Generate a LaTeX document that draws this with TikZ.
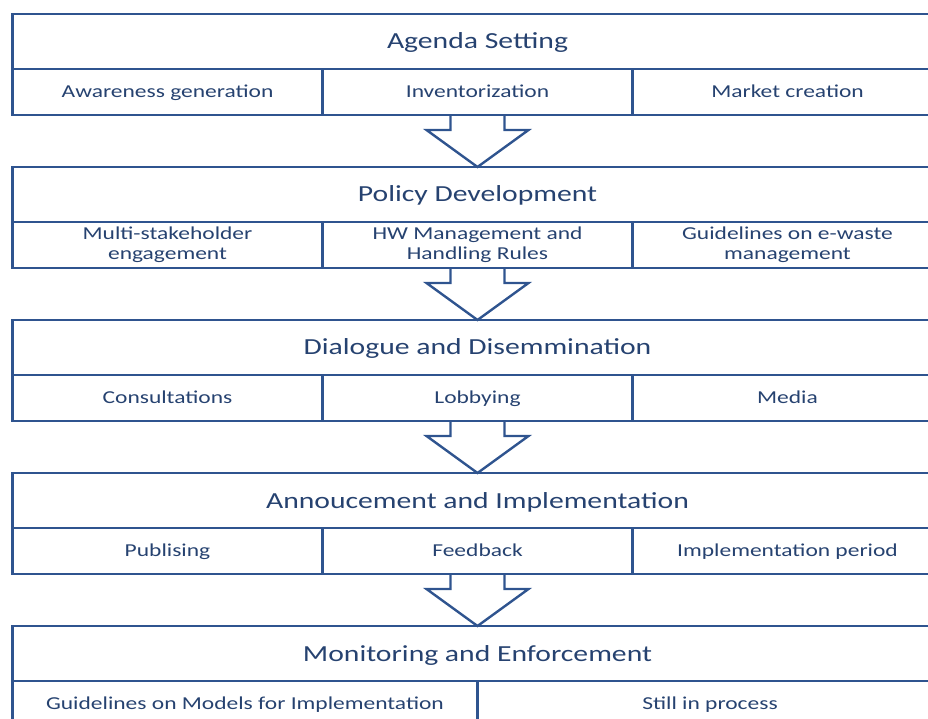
\documentclass[tikz,border=0pt]{standalone}
\usepackage{fontspec}
\setmainfont{Carlito}[FakeStretch=1.29]
\usetikzlibrary{positioning, calc}

\definecolor{frameblue}{RGB}{47,84,143}
\definecolor{textblue}{RGB}{38,66,112}

\begin{document}
\begin{tikzpicture}[
  x=1pt, y=1pt,
  stage/.style={draw=frameblue, line width=2.6pt, minimum width=930pt, minimum height=55pt,
                inner sep=0pt, outer sep=0pt, text=textblue, text height=19pt, text depth=4pt,
                font=\fontsize{23}{26}\selectfont},
  task/.style={draw=frameblue, line width=2.6pt, minimum width=310pt, minimum height=46pt,
               inner sep=0pt, outer sep=0pt, align=center, text=textblue,
               text height=14.5pt, text depth=3.5pt,
               font=\fontsize{18.2}{20}\selectfont},
  twoline/.style={text height=, text depth=},
  bigarrow/.style={draw=frameblue, line width=2.4pt, line join=miter},
]
\useasboundingbox (0,0) rectangle (928,718);
\clip (0,0) rectangle (928,718);

% Agenda Setting
\node[stage] (as) at (477.5,676.5) {Agenda Setting};
\node[task, anchor=north west] (as1) at (as.south west) {Awareness generation};
\node[task, right=0pt of as1] (as2) {Inventorization};
\node[task, right=0pt of as2] (as3) {Market creation};

% Policy Development
\node[stage, below=52pt of as2] (pd) {Policy Development};
\node[task, twoline, anchor=north west] (pd1) at (pd.south west) {Multi-stakeholder\\engagement};
\node[task, twoline, right=0pt of pd1] (pd2) {HW Management and\\Handling Rules};
\node[task, twoline, right=0pt of pd2] (pd3) {Guidelines on e-waste\\management};

% Dialogue and Disemmination
\node[stage, below=52pt of pd2] (dd) {Dialogue and Disemmination};
\node[task, anchor=north west] (dd1) at (dd.south west) {Consultations};
\node[task, right=0pt of dd1] (dd2) {Lobbying};
\node[task, right=0pt of dd2] (dd3) {Media};

% Annoucement and Implementation
\node[stage, below=52pt of dd2] (ai) {Annoucement and Implementation};
\node[task, anchor=north west] (ai1) at (ai.south west) {Publising};
\node[task, right=0pt of ai1] (ai2) {Feedback};
\node[task, right=0pt of ai2] (ai3) {Implementation period};

% Monitoring and Enforcement (two columns only)
\node[stage, below=52pt of ai2] (me) {Monitoring and Enforcement};
\node[task, minimum width=465pt, anchor=north west] (me1) at (me.south west) {Guidelines on Models for Implementation};
\node[task, minimum width=465pt, right=0pt of me1] (me2) {Still in process};

% block arrows between the stages
\foreach \a/\b in {as2/pd, pd2/dd, dd2/ai, ai2/me}
  \draw[bigarrow] ($(\a.south)+(-27,0)$) -- ++(0,-15) -- ++(-24,0) -- (\b.north)
    -- ++(51,37) -- ++(-24,0) -- ++(0,15);

\end{tikzpicture}
\end{document}
